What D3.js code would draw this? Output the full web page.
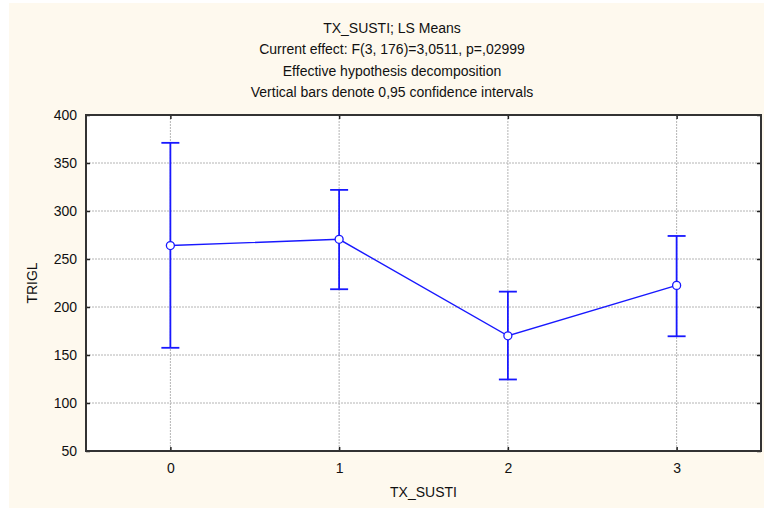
<!DOCTYPE html>
<html>
<head>
<meta charset="utf-8">
<script src="https://cdn.jsdelivr.net/npm/d3@7"></script>
<style>
  body { margin: 0; background: white; }
  text { font-family: "Liberation Sans", Arial, sans-serif; fill: #111; }
</style>
</head>
<body>
<div id="container"></div>
<script>
/* DATA */
const categories = [0, 1, 2, 3];
const means = [264, 270.5, 170, 222.5];
const lower = [157.5, 218.5, 124.5, 169.5];
const upper = [371, 322, 216, 274];
const yTicks = [50, 100, 150, 200, 250, 300, 350, 400];
const titleLines = [
  "TX_SUSTI; LS Means",
  "Current effect: F(3, 176)=3,0511, p=,02999",
  "Effective hypothesis decomposition",
  "Vertical bars denote 0,95 confidence intervals"
];

/* CONSTANTS */
const width = 764, height = 508,
  margin = { top: 115, bottom: 57, left: 86, right: 3 };

const svg = d3.select("#container")
  .append("svg")
  .attr("width", width)
  .attr("height", height)
  .style("display", "block")
  .style("background-color", "white");

// PAGE BACKGROUND (thin white strip left and top, as in the original)
svg.append("rect")
  .attr("x", 9)
  .attr("y", 3)
  .attr("width", width - 9)
  .attr("height", height - 3)
  .attr("fill", "#fef9ee");

// SCALES
const xScale = d3.scaleLinear()
  .domain([-0.5, 3.5])
  .range([margin.left, width - margin.right]);

const yScale = d3.scaleLinear()
  .domain([50, 400])
  .range([height - margin.bottom, margin.top]);

// PLOT BACKGROUND
svg.append("rect")
  .attr("x", margin.left)
  .attr("y", margin.top)
  .attr("width", width - margin.right - margin.left)
  .attr("height", height - margin.bottom - margin.top)
  .attr("fill", "white");

// GRID
svg.append("g")
  .selectAll("line")
  .data(yTicks.slice(1, -1))
  .join("line")
  .attr("x1", margin.left)
  .attr("x2", width - margin.right)
  .attr("y1", d => yScale(d))
  .attr("y2", d => yScale(d))
  .attr("stroke", "#b4b4b4")
  .attr("stroke-width", 1)
  .attr("stroke-dasharray", "2,1");

svg.append("g")
  .selectAll("line")
  .data(categories)
  .join("line")
  .attr("x1", d => xScale(d))
  .attr("x2", d => xScale(d))
  .attr("y1", margin.top)
  .attr("y2", height - margin.bottom)
  .attr("stroke", "#b4b4b4")
  .attr("stroke-width", 1)
  .attr("stroke-dasharray", "2,1");

// AXES
const xAxis = d3.axisBottom(xScale).tickValues(categories).tickSize(-4).tickPadding(12).tickFormat(d3.format("d"));
const yAxis = d3.axisLeft(yScale).tickValues(yTicks).tickSize(-4).tickPadding(9);

const xAxisGroup = svg.append("g")
  .attr("transform", `translate(0, ${height - margin.bottom})`)
  .call(xAxis);

const xTopGroup = svg.append("g")
  .attr("transform", `translate(0, ${margin.top})`)
  .call(d3.axisTop(xScale).tickValues(categories).tickSize(-4).tickFormat(""));

const yAxisGroup = svg.append("g")
  .attr("transform", `translate(${margin.left}, 0)`)
  .call(yAxis);

const yRightGroup = svg.append("g")
  .attr("transform", `translate(${width - margin.right}, 0)`)
  .call(d3.axisRight(yScale).tickValues(yTicks).tickSize(-4).tickFormat(""));

[xAxisGroup, xTopGroup, yAxisGroup, yRightGroup].forEach(g => {
  g.select(".domain").remove();
  g.selectAll(".tick line").attr("stroke", "#222").attr("stroke-width", 1.5);
  g.selectAll(".tick text")
    .attr("font-size", 14)
    .attr("font-family", "Liberation Sans, Arial, sans-serif")
    .attr("fill", "#111");
});

// FRAME
svg.append("rect")
  .attr("x", margin.left)
  .attr("y", margin.top)
  .attr("width", width - margin.right - margin.left)
  .attr("height", height - margin.bottom - margin.top)
  .attr("fill", "none")
  .attr("stroke", "#333")
  .attr("stroke-width", 2);

// ERROR BARS
const bars = svg.append("g")
  .selectAll("g")
  .data(categories)
  .join("g");

bars.append("line")
  .attr("x1", d => xScale(d))
  .attr("x2", d => xScale(d))
  .attr("y1", (d, i) => yScale(lower[i]))
  .attr("y2", (d, i) => yScale(upper[i]))
  .attr("stroke", "#1818ff")
  .attr("stroke-width", 1.8);

bars.append("line")
  .attr("x1", d => xScale(d) - 9)
  .attr("x2", d => xScale(d) + 9)
  .attr("y1", (d, i) => yScale(upper[i]))
  .attr("y2", (d, i) => yScale(upper[i]))
  .attr("stroke", "#1818ff")
  .attr("stroke-width", 1.8);

bars.append("line")
  .attr("x1", d => xScale(d) - 9)
  .attr("x2", d => xScale(d) + 9)
  .attr("y1", (d, i) => yScale(lower[i]))
  .attr("y2", (d, i) => yScale(lower[i]))
  .attr("stroke", "#1818ff")
  .attr("stroke-width", 1.8);

// MEAN LINE
const lineGen = d3.line()
  .x((d, i) => xScale(categories[i]))
  .y(d => yScale(d));

svg.append("path")
  .datum(means)
  .attr("d", lineGen)
  .attr("fill", "none")
  .attr("stroke", "#1818ff")
  .attr("stroke-width", 1.4);

svg.append("g")
  .selectAll("circle")
  .data(means)
  .join("circle")
  .attr("cx", (d, i) => xScale(categories[i]))
  .attr("cy", d => yScale(d))
  .attr("r", 4)
  .attr("fill", "white")
  .attr("stroke", "#1818ff")
  .attr("stroke-width", 1.3);

// TITLES
svg.append("g")
  .selectAll("text")
  .data(titleLines)
  .join("text")
  .attr("x", 392)
  .attr("y", (d, i) => 33 + i * 21.3)
  .attr("text-anchor", "middle")
  .attr("font-size", 14)
  .text(d => d);

svg.append("text")
  .attr("x", (margin.left + width - margin.right) / 2)
  .attr("y", 497)
  .attr("text-anchor", "middle")
  .attr("font-size", 14)
  .text("TX_SUSTI");

svg.append("text")
  .attr("x", -(margin.top + height - margin.bottom) / 2)
  .attr("y", 37)
  .attr("transform", "rotate(-90)")
  .attr("text-anchor", "middle")
  .attr("font-size", 14)
  .text("TRIGL");
</script>
</body>
</html>
